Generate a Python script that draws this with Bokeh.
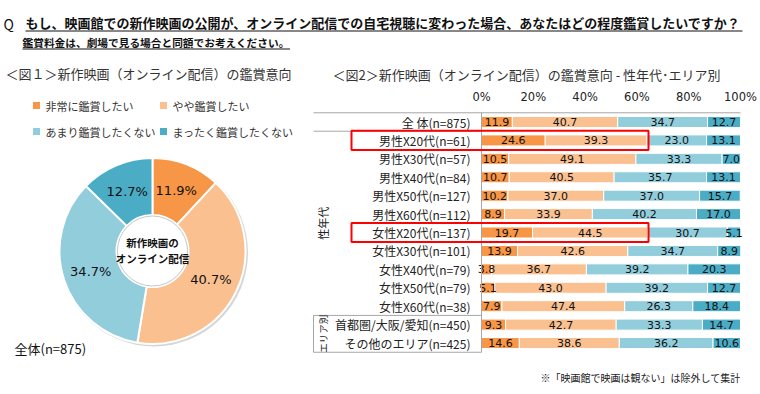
import math
from bokeh.plotting import figure
from bokeh.layouts import column, row
from bokeh.models import Range1d, LinearAxis, FixedTicker, PrintfTickFormatter, ColumnDataSource
from bokeh.core.properties import value
from bokeh.embed import file_html
from bokeh.resources import INLINE

# ---------------- data ----------------
TITLE_Q = "Q"
TITLE = "もし、映画館での新作映画の公開が、オンライン配信での自宅視聴に変わった場合、あなたはどの程度鑑賞したいですか？"
SUBTITLE = "鑑賞料金は、劇場で見る場合と同額でお考えください。"
FIG1_TITLE = "＜図１＞新作映画（オンライン配信）の鑑賞意向"
FIG2_TITLE = "＜図2＞新作映画（オンライン配信）の鑑賞意向 - 性年代･エリア別"
FOOTNOTE = "※「映画館で映画は観ない」は除外して集計"

levels = ["非常に鑑賞したい", "やや鑑賞したい", "あまり鑑賞したくない", "まったく鑑賞したくない"]
colors = ["#F79646", "#FAC090", "#92CDDC", "#4BACC6"]

overall_label = "全体(n=875)"
overall = [11.9, 40.7, 34.7, 12.7]
donut_center_text = ["新作映画の", "オンライン配信"]

categories = [
    "全 体(n=875)",
    "男性X20代(n=61)",
    "男性X30代(n=57)",
    "男性X40代(n=84)",
    "男性X50代(n=127)",
    "男性X60代(n=112)",
    "女性X20代(n=137)",
    "女性X30代(n=101)",
    "女性X40代(n=79)",
    "女性X50代(n=79)",
    "女性X60代(n=38)",
    "首都圏/大阪/愛知(n=450)",
    "その他のエリア(n=425)",
]
very = [11.9, 24.6, 10.5, 10.7, 10.2, 8.9, 19.7, 13.9, 3.8, 5.1, 7.9, 9.3, 14.6]
somewhat = [40.7, 39.3, 49.1, 40.5, 37.0, 33.9, 44.5, 42.6, 36.7, 43.0, 47.4, 42.7, 38.6]
not_much = [34.7, 23.0, 33.3, 35.7, 37.0, 40.2, 30.7, 34.7, 39.2, 39.2, 26.3, 33.3, 36.2]
not_at_all = [12.7, 13.1, 7.0, 13.1, 15.7, 17.0, 5.1, 8.9, 20.3, 12.7, 18.4, 14.7, 10.6]
series = [very, somewhat, not_much, not_at_all]

group_names = ["性年代", "エリア別"]
group_first = ["男性X20代(n=61)", "首都圏/大阪/愛知(n=450)"]
group_last = ["女性X60代(n=38)", "その他のエリア(n=425)"]
highlight = ["男性X20代(n=61)", "女性X20代(n=137)"]
x_ticks = [0, 20, 40, 60, 80, 100]

JP = value("Noto Sans CJK JP")
NUM = value("DejaVu Sans")

W, H = 760, 394
STRIP = 34   # height of the title strip


def blank(w, h, xr, yr):
    p = figure(width=w, height=h, x_range=Range1d(*xr), y_range=Range1d(*yr),
               output_backend="svg", toolbar_location=None, min_border=0,
               x_axis_location=None, y_axis_location=None, outline_line_color=None)
    p.grid.visible = False
    p.frame_align = False
    return p


# ---------------- title strip (page y 0..34) ----------------
pt = blank(W, STRIP, (0, W), (STRIP, 0))
pt.text(x=[3], y=[23], text=[TITLE_Q], text_font=JP, text_font_size="14px",
        text_align="left", text_baseline="middle", text_color="#111111")
pt.text(x=[25], y=[22], text=[TITLE], text_font=JP, text_font_size="13px",
        text_font_style="bold", text_align="left", text_baseline="middle", text_color="#111111")
pt.segment(x0=[25], y0=[30.5], x1=[742], y1=[30.5], line_color="#111111", line_width=1)

# ---------------- left: donut (page x 0..300, y 34..394; data y = 394 - Y) ----------------
pl = blank(300, H - STRIP, (0, 300), (0, H - STRIP))
pl.text(x=[22], y=[H - 42], text=[SUBTITLE], text_font=JP, text_font_size="10.7px",
        text_font_style="bold", text_align="left", text_baseline="middle", text_color="#111111")
pl.segment(x0=[22], y0=[H - 48.5], x1=[22 + 25 * 10.7], y1=[H - 48.5],
           line_color="#111111", line_width=1)
pl.text(x=[5], y=[H - 73], text=[FIG1_TITLE], text_font=JP, text_font_size="13px",
        text_align="left", text_baseline="middle", text_color="#333333")

leg_x = [36, 163, 36, 163]
leg_y = [H - 105, H - 105, H - 131, H - 131]
pl.scatter(x=leg_x, y=leg_y, marker="square", size=7, fill_color=colors, line_color=None)
pl.text(x=[v + 9 for v in leg_x], y=leg_y, text=levels, text_font=JP, text_font_size="11px",
        text_align="left", text_baseline="middle", text_color="#333333")

cx, cy = 152, H - 250.5
r_in, r_out = 36, 93
pl.circle(x=[cx + 1.5], y=[cy - 1.5], radius=r_out + 1, fill_color="#d6d6d6", line_color=None)
starts, ends, mids = [], [], []
cum = 0.0
for v in overall:
    starts.append(math.pi / 2 - (cum + v) / 100 * 2 * math.pi)
    ends.append(math.pi / 2 - cum / 100 * 2 * math.pi)
    mids.append(math.pi / 2 - (cum + v / 2) / 100 * 2 * math.pi)
    cum += v
pl.annular_wedge(x=cx, y=cy, inner_radius=r_in, outer_radius=r_out,
                 start_angle=starts, end_angle=ends, fill_color=colors,
                 line_color="white", line_width=2)
pl.circle(x=[cx], y=[cy], radius=r_in - 1, fill_color="white", line_color="#c8c8c8", line_width=1)
r_lab = 65
pl.text(x=[cx + r_lab * math.cos(a) for a in mids], y=[cy + r_lab * math.sin(a) for a in mids],
        text=["%.1f%%" % v for v in overall], text_font=NUM, text_font_size="13px",
        text_align="center", text_baseline="middle", text_color="#111111")
pl.text(x=[cx, cx], y=[cy + 9, cy - 7], text=donut_center_text, text_font=JP,
        text_font_size="10.5px", text_font_style="bold", text_align="center",
        text_baseline="middle", text_color="#111111")
pl.text(x=[14], y=[H - 348], text=[overall_label], text_font=JP, text_font_size="13px",
        text_align="left", text_baseline="middle", text_color="#111111")

# ---------------- right: stacked bars (page x 300..760, y 34..394) ----------------
k = 2.59          # px per percentage point
x0px = 481        # page x of 0%
row_h = 18.42
row0 = 121.5      # page y of first row
top_px = 108      # page y of plot frame top


def dx(px):
    return (px - x0px) / k


def dy(py):
    return (py - row0) / row_h


pr = figure(width=W - 300, height=H - STRIP, x_range=Range1d(dx(300), dx(W)),
            y_range=Range1d(dy(H), dy(top_px)), output_backend="svg",
            toolbar_location=None, min_border_left=0, min_border_right=0,
            min_border_top=top_px - STRIP, min_border_bottom=0,
            x_axis_location=None, y_axis_location=None, outline_line_color=None,
            title=FIG2_TITLE)
pr.grid.visible = False
pr.frame_align = False
pr.title.text_font = "Noto Sans CJK JP"
pr.title.text_font_size = "13px"
pr.title.text_font_style = "normal"
pr.title.text_color = "#333333"
pr.title.align = "left"
pr.title.offset = 32
pr.title.standoff = 6

ax = LinearAxis(ticker=FixedTicker(ticks=x_ticks), formatter=PrintfTickFormatter(format="%d%%"))
ax.axis_line_color = None
ax.major_tick_line_color = None
ax.minor_tick_line_color = None
ax.major_tick_out = 0
ax.major_label_standoff = 5
ax.major_label_text_font = "DejaVu Sans"
ax.major_label_text_font_size = "11.5px"
ax.major_label_text_color = "#222222"
pr.add_layout(ax, "above")

idx = list(range(len(categories)))
left = [0.0] * len(categories)
sources = []
for s, col in zip(series, colors):
    right = [l + v for l, v in zip(left, s)]
    src = ColumnDataSource(dict(y=idx, left=left, right=right,
                                mid=[(l + r) / 2 for l, r in zip(left, right)],
                                lab=["%.1f" % v for v in s]))
    pr.hbar(y="y", left="left", right="right", height=0.6, source=src,
            fill_color=col, line_color="white", line_width=1)
    sources.append(src)
    left = right
for src in sources:
    pr.text(x="mid", y="y", text="lab", source=src, text_font=NUM, text_font_size="11px",
            text_align="center", text_baseline="middle", text_color="#111111")

# category labels
pr.text(x=[dx(470)] * len(categories), y=idx, text=categories, text_font=JP,
        text_font_size="12px", text_align="right", text_baseline="middle", text_color="#222222")

# frame lines
lx = dx(313)
n = len(categories)
g1 = categories.index(group_first[0])
g2 = categories.index(group_first[1])
gl2 = categories.index(group_last[1])
seg_x0 = [lx, lx, lx, lx, 0, lx]
seg_x1 = [100, 0, 0, 0, 0, lx]
seg_y0 = [-0.5, g1 - 0.5, g2 - 0.5, gl2 + 0.5, -0.5, g2 - 0.5]
seg_y1 = [-0.5, g1 - 0.5, g2 - 0.5, gl2 + 0.5, n - 0.5, gl2 + 0.5]
pr.segment(x0=seg_x0, y0=seg_y0, x1=seg_x1, y1=seg_y1, line_color="#a6a6a6", line_width=1)

# group labels (rotated)
gy = []
for f, l in zip(group_first, group_last):
    gy.append((categories.index(f) + categories.index(l)) / 2)
pr.text(x=[dx(322)], y=[gy[0]], text=[group_names[0]], text_font=JP, text_font_size="11px",
        angle=math.pi / 2, text_align="center", text_baseline="middle", text_color="#222222")
pr.text(x=[dx(322)], y=[gy[1]], text=[group_names[1]], text_font=JP, text_font_size="9.5px",
        angle=math.pi / 2, text_align="center", text_baseline="middle", text_color="#222222")

# highlight boxes
hi = [categories.index(c) for c in highlight]
pr.quad(left=dx(351), right=dx(648), top=[i - 0.52 for i in hi], bottom=[i + 0.52 for i in hi],
        fill_color=None, line_color="#ff0000", line_width=2)

pr.text(x=[dx(740)], y=[dy(377)], text=[FOOTNOTE], text_font=JP, text_font_size="10px",
        text_align="right", text_baseline="middle", text_color="#222222")

layout = column(pt, row(pl, pr))
open("out.html", "w").write(file_html(layout, INLINE))
